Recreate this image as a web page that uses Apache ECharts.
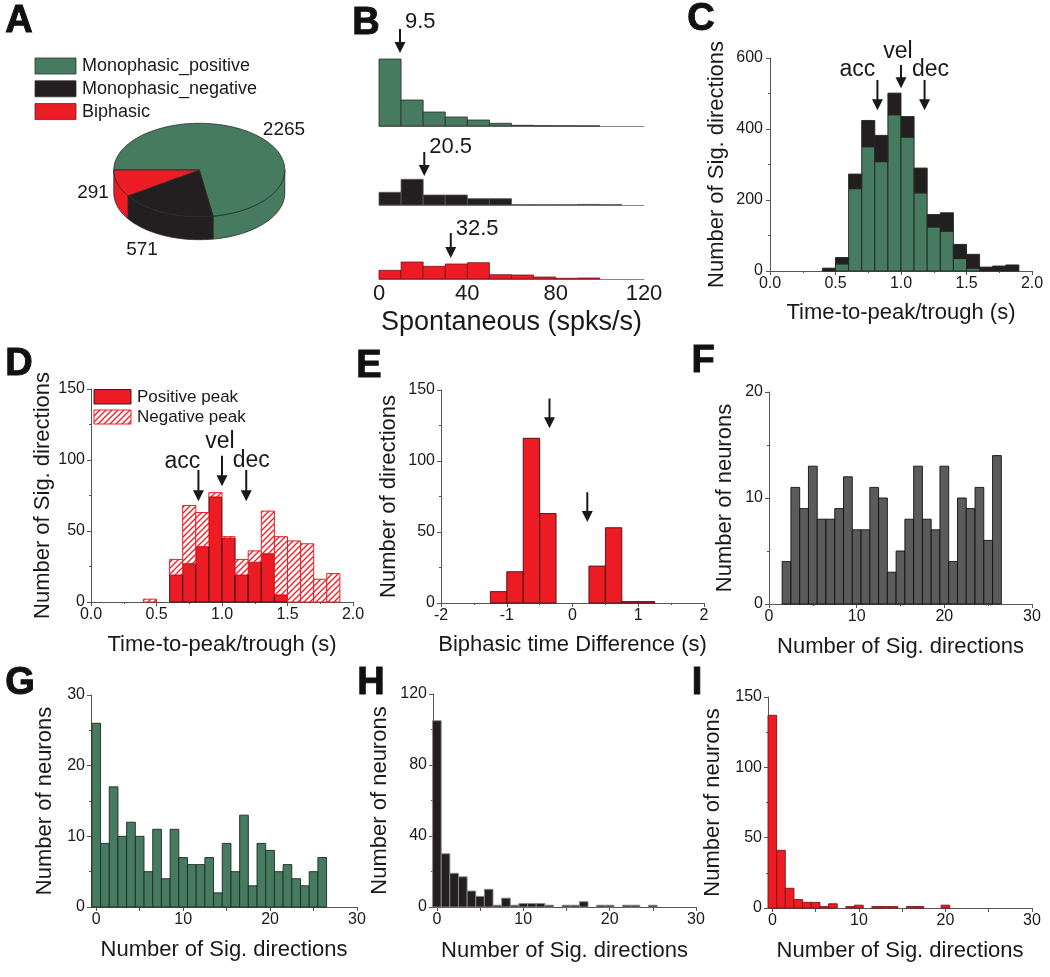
<!DOCTYPE html>
<html><head><meta charset="utf-8">
<script src="https://cdn.jsdelivr.net/npm/echarts@6/dist/echarts.min.js"></script>
<style>html,body{margin:0;padding:0;background:#fff}#c{width:1050px;height:977px}</style>
</head><body><div id="c"></div><script>
// ================= DATA =================
// A: counts of significant directions by response type
const pieNames = ['Monophasic_positive', 'Monophasic_negative', 'Biphasic'];
const pieValues = [2265, 571, 291];

// B: spontaneous firing-rate histograms (bin 10 spk/s, from 0), relative heights
const spontBinStart = 0, spontBin = 10;
const spontTicks = [0, 40, 80, 120];
const spontMonoPos = [67, 26, 14, 9, 6, 2.7, 0.7, 0.3, 0.2, 0.1, 0, 0];
const spontMonoNeg = [12.7, 25.7, 10, 10, 6.3, 6.3, 0.3, 0.3, 0.3, 0.6, 0.3, 0];
const spontBiphasic = [8.7, 17, 12.7, 15, 16.3, 4.3, 4, 2, 0.7, 1, 0, 0];
const spontMedians = [9.5, 20.5, 32.5];

// C / D: time-to-peak/trough (bin 0.1 s from 0.4 s)
const ttpBinStart = 0.4, ttpBin = 0.1;
const ttpMonoPos = [0, 20, 232, 350, 308, 440, 377, 220, 124, 112, 35, 8, 0, 0, 0];
const ttpMonoNeg = [8, 18, 41, 74, 74, 61, 58, 70, 35, 52, 40, 39, 11, 14, 17];
const ttpBiPos = [0, 0, 19, 27, 39, 74, 45, 19, 28, 34, 5, 0, 0, 0, 0];
const ttpBiNeg = [2, 0, 11, 41, 24, 3, 1, 11, 8, 30, 41, 43, 41, 16, 20];
const phaseNames = ['acc', 'vel', 'dec'];
const phaseTimesC = [0.82, 1.0, 1.18];
const phaseTimesD = [0.82, 1.0, 1.185];

// E: biphasic time difference (bin 0.25 s from -1.25 s)
const diffBinStart = -1.25, diffBin = 0.25;
const diffCounts = [8, 22, 116, 63, 0, 0, 26, 53, 1, 1];
const diffMarks = [-0.35, 0.225];

// F-I: number of neurons vs number of significant directions (index = n directions)
const nSigTicks = [0, 10, 20, 30];
const nSigMinorTicks = [0, 5, 10, 15, 20, 25, 30];
const nSigAll      = [0, 0, 4, 11, 9, 13, 8, 8, 9, 12, 7, 7, 11, 10, 3, 5, 8, 13, 8, 7, 13, 4, 10, 9, 11, 6, 14];
const nSigMonoPos  = [26, 9, 17, 10, 12, 10, 5, 11, 4, 11, 7, 6, 6, 7, 2, 9, 5, 13, 3, 9, 8, 5, 6, 4, 3, 5, 7];
const nSigMonoNeg  = [105, 30, 19, 17, 9, 6, 10, 1, 5, 1, 2, 2, 2, 1, 0, 1, 1, 3, 0, 1, 1, 0, 1, 1, 0, 1, 0];
const nSigBiphasic = [137, 41, 14, 6, 4, 4, 1, 3, 0, 1, 2, 0, 1, 1, 1, 0, 1, 1, 0, 0, 2, 0, 0, 0, 0, 0, 0];

// ================= STYLE =================
const FONT = '"Liberation Sans", Arial, Helvetica, sans-serif';
const INK = '#1a1819';
const GREEN = '#467b5f', RED = '#ed1c24', BLACK = '#231f20', GRAY = '#5b5b5b';
const AX = '#555';
const pieColors = [GREEN, BLACK, RED];

function hatchCanvas() {
  const c = document.createElement('canvas'); c.width = 6; c.height = 6;
  const g = c.getContext('2d');
  g.fillStyle = '#fff'; g.fillRect(0, 0, 6, 6);
  g.strokeStyle = RED; g.lineWidth = 1.3; g.beginPath();
  g.moveTo(0, 6); g.lineTo(6, 0);
  g.moveTo(-1, 1); g.lineTo(1, -1);
  g.moveTo(5, 7); g.lineTo(7, 5);
  g.stroke();
  return c;
}
const HATCH = { image: hatchCanvas(), repeat: 'repeat' };

function merge(a, b) {
  const o = Array.isArray(a) ? a.slice() : Object.assign({}, a);
  for (const k in b) {
    if (b[k] && typeof b[k] === 'object' && !Array.isArray(b[k]) && !b[k].image && a[k] && typeof a[k] === 'object') o[k] = merge(a[k], b[k]);
    else o[k] = b[k];
  }
  return o;
}
function txt(text, size, extra) {
  return Object.assign({ text, fill: INK, fontSize: size, fontFamily: FONT,
    align: 'left', verticalAlign: 'middle', textAlign: 'left', textVerticalAlign: 'middle' }, extra || {});
}

// ================= LAYOUT =================
const grids = [
  { left: 379, top: 56, width: 265, height: 70 },   // 0 B1
  { left: 379, top: 135, width: 265, height: 70 },  // 1 B2
  { left: 379, top: 209, width: 265, height: 70 },  // 2 B3
  { left: 770, top: 58, width: 262, height: 213 },  // 3 C
  { left: 91, top: 389, width: 262, height: 213 },  // 4 D
  { left: 441, top: 390, width: 263, height: 213 }, // 5 E
  { left: 769, top: 392, width: 263, height: 212 }, // 6 F
  { left: 91, top: 695, width: 266, height: 212 },  // 7 G
  { left: 433, top: 694, width: 263, height: 213 }, // 8 H
  { left: 768, top: 697, width: 264, height: 211 }  // 9 I
].map(g => Object.assign({ outerBoundsMode: 'none', containLabel: false }, g));

function axis(gi, o) {
  return merge({
    type: 'value', gridIndex: gi, splitLine: { show: false },
    axisLine: { show: true, onZero: false, lineStyle: { color: AX, width: 1 } },
    axisTick: { show: true, inside: false, length: 4, lineStyle: { color: AX, width: 1 } },
    minorTick: { show: true, splitNumber: 2, length: 2, lineStyle: { color: AX, width: 1 } },
    axisLabel: { color: INK, fontSize: 16, fontFamily: FONT, margin: 5 },
    nameLocation: 'middle', nameTextStyle: { color: INK, fontSize: 22, fontFamily: FONT }
  }, o);
}
const f1 = v => v.toFixed(1);

const xAxes = [
  axis(0, { min: 0, max: 120, axisTick: { show: false }, minorTick: { show: false }, axisLabel: { show: false }, axisLine: { lineStyle: { color: '#888' } } }),
  axis(1, { min: 0, max: 120, axisTick: { show: false }, minorTick: { show: false }, axisLabel: { show: false }, axisLine: { lineStyle: { color: '#888' } } }),
  axis(2, { min: 0, max: 120, interval: 40, axisTick: { show: false }, minorTick: { show: false }, axisLine: { lineStyle: { color: '#888' } },
    axisLabel: { fontSize: 22, margin: 4, customValues: spontTicks }, name: 'Spontaneous (spks/s)', nameGap: 30, nameTextStyle: { fontSize: 27 } }),
  axis(3, { min: 0, max: 2, interval: 0.5, axisLabel: { formatter: f1 }, name: 'Time-to-peak/trough (s)', nameGap: 31 }),
  axis(4, { min: 0, max: 2, interval: 0.5, axisLabel: { formatter: f1 }, name: 'Time-to-peak/trough (s)', nameGap: 32 }),
  axis(5, { min: -2, max: 2, interval: 1, name: 'Biphasic time Difference (s)', nameGap: 31 }),
  axis(6, { min: 0, max: 30, interval: 10, name: 'Number of Sig. directions', nameGap: 32 }),
  axis(7, { min: -0.6, max: 30, minorTick: { show: false }, axisTick: { customValues: nSigMinorTicks }, axisLabel: { customValues: nSigTicks }, name: 'Number of Sig. directions', nameGap: 32 }),
  axis(8, { min: -0.45, max: 30, minorTick: { show: false }, axisTick: { customValues: nSigMinorTicks }, axisLabel: { customValues: nSigTicks }, name: 'Number of Sig. directions', nameGap: 33 }),
  axis(9, { min: -0.5, max: 30, minorTick: { show: false }, axisTick: { customValues: nSigMinorTicks }, axisLabel: { customValues: nSigTicks }, name: 'Number of Sig. directions', nameGap: 32 })
];
const yAxes = [
  axis(0, { min: 0, max: 70, show: false }),
  axis(1, { min: 0, max: 70, show: false }),
  axis(2, { min: 0, max: 70, show: false }),
  axis(3, { min: 0, max: 600, interval: 200, name: 'Number of Sig. directions', nameGap: 42, axisLabel: { margin: 7 } }),
  axis(4, { min: 0, max: 150, interval: 50, name: 'Number of Sig. directions', nameGap: 37, axisLabel: { margin: 6 } }),
  axis(5, { min: 0, max: 150, interval: 50, name: 'Number of directions', nameGap: 41, axisLabel: { margin: 6 } }),
  axis(6, { min: 0, max: 20, interval: 10, name: 'Number of neurons', nameGap: 33, axisLabel: { margin: 6 } }),
  axis(7, { min: 0, max: 30, interval: 10, name: 'Number of neurons', nameGap: 35, axisLabel: { margin: 6 } }),
  axis(8, { min: 0, max: 120, interval: 40, name: 'Number of neurons', nameGap: 42, axisLabel: { margin: 6 } }),
  axis(9, { min: 0, max: 150, interval: 50, name: 'Number of neurons', nameGap: 44, axisLabel: { margin: 6 } })
];

// ================= SERIES BUILDERS =================
function hist(gi, start, width, vals, base, fill, stroke, lw) {
  const data = vals.map((v, i) => {
    const b = base ? base[i] : 0;
    return [start + i * width, start + (i + 1) * width, b, b + v];
  });
  return {
    type: 'custom', xAxisIndex: gi, yAxisIndex: gi, data, clip: false, silent: true,
    encode: { x: [0, 1], y: [2, 3] },
    renderItem: (p, api) => {
      if (api.value(3) - api.value(2) <= 0) return null;
      const a = api.coord([api.value(0), api.value(3)]);
      const b = api.coord([api.value(1), api.value(2)]);
      return { type: 'rect', shape: { x: a[0], y: a[1], width: b[0] - a[0], height: b[1] - a[1] },
        style: { fill, stroke, lineWidth: lw } };
    }
  };
}
// arrows: rows [x, yTail, yTip, label, dxPx, dyPx, align]
function arrows(gi, rows, fontSize) {
  return {
    type: 'custom', xAxisIndex: gi, yAxisIndex: gi, clip: false, silent: true, z: 5,
    data: rows.map(r => [r[0], r[1], r[2]]),
    renderItem: (p, api) => {
      const r = rows[p.dataIndex];
      const t = api.coord([api.value(0), api.value(1)]);
      const b = api.coord([api.value(0), api.value(2)]);
      const hw = 5.5, hl = 11;
      const ch = [
        { type: 'line', shape: { x1: t[0], y1: t[1], x2: b[0], y2: b[1] - hl + 1 }, style: { stroke: INK, lineWidth: 2 } },
        { type: 'polygon', shape: { points: [[b[0] - hw, b[1] - hl], [b[0] + hw, b[1] - hl], [b[0], b[1]]] }, style: { fill: INK } }
      ];
      if (r[3]) ch.push({ type: 'text', x: t[0] + r[4], y: t[1] + r[5],
        style: txt(r[3], fontSize, { align: r[6], textAlign: r[6] }) });
      return { type: 'group', children: ch };
    }
  };
}

// 3-D pie (custom, angles from pieValues)
const PIE = { cx: 199.3, cy: 170, rx: 85.5, ry: 46.7, h: 23 };
function pieRender(params, api) {
  const i = params.dataIndex;
  const order = [2, 1, 0];
  const total = pieValues.reduce((s, v) => s + v, 0);
  let before = 0;
  for (const k of order) { if (k === i) break; before += pieValues[k]; }
  const a1 = 180 - before / total * 360;
  const a0 = a1 - api.value(0) / total * 360;
  const pt = (deg, dy) => { const t = deg * Math.PI / 180; return [PIE.cx + PIE.rx * Math.cos(t), PIE.cy + PIE.ry * Math.sin(t) + (dy || 0)]; };
  const arc = (s, e, dy) => { const n = Math.max(2, Math.ceil(Math.abs(e - s) / 2)); const out = []; for (let j = 0; j <= n; j++) out.push(pt(s + (e - s) * j / n, dy)); return out; };
  const style = { fill: pieColors[i], stroke: '#2a2a2a', lineWidth: 0.8 };
  const ch = [];
  const s = Math.max(a0, 0), e = Math.min(a1, 180);
  if (e > s) {
    const top = arc(s, e, 0), bot = arc(e, s, PIE.h);
    ch.push({ type: 'polygon', shape: { points: top.concat(bot) }, style });
  }
  ch.push({ type: 'polygon', shape: { points: [[PIE.cx, PIE.cy]].concat(arc(a0, a1, 0)) }, style });
  return { type: 'group', children: ch };
}

// ================= ANNOTATION GEOMETRY (data units) =================
const bArrowTail = [97, 53, 46], bArrowTip = [73, 29, 21], bLabelDy = [-7, -5, -4];
const cArrow = [[538, 453, -20, -10], [580, 515, -3, -13], [538, 453, 6, -10]];
const dArrow = [[93, 71, -16, -8], [103, 81.5, -2, -14], [93, 71, 5, -9]];
const eArrow = [[144, 123], [78, 57]];

const series = [
  { type: 'custom', coordinateSystem: 'none', silent: true, data: pieValues.map(v => [v]), renderItem: pieRender },
  hist(0, spontBinStart, spontBin, spontMonoPos, null, GREEN, '#2b2b2b', 0.8),
  hist(1, spontBinStart, spontBin, spontMonoNeg, null, BLACK, '#555', 0.8),
  hist(2, spontBinStart, spontBin, spontBiphasic, null, RED, '#6a1a1a', 0.8),
  ...spontMedians.map((m, k) => arrows(k, [[m, bArrowTail[k], bArrowTip[k], String(m), 5, bLabelDy[k], 'left']], 22)),
  hist(3, ttpBinStart, ttpBin, ttpMonoPos, null, GREEN, '#222', 0.9),
  hist(3, ttpBinStart, ttpBin, ttpMonoNeg, ttpMonoPos, BLACK, '#222', 0.9),
  arrows(3, phaseNames.map((n, k) => [phaseTimesC[k], cArrow[k][0], cArrow[k][1], n, cArrow[k][2], cArrow[k][3], 'center']), 23),
  hist(4, ttpBinStart, ttpBin, ttpBiPos, null, RED, '#2a1010', 0.9),
  hist(4, ttpBinStart, ttpBin, ttpBiNeg, ttpBiPos, HATCH, RED, 1),
  arrows(4, phaseNames.map((n, k) => [phaseTimesD[k], dArrow[k][0], dArrow[k][1], n, dArrow[k][2], dArrow[k][3], 'center']), 23),
  hist(5, diffBinStart, diffBin, diffCounts, null, RED, '#3a1010', 0.9),
  arrows(5, diffMarks.map((m, k) => [m, eArrow[k][0], eArrow[k][1], '', 0, 0, 'center']), 22),
  hist(6, -0.5, 1, nSigAll, null, GRAY, '#111', 0.9),
  hist(7, -0.5, 1, nSigMonoPos, null, GREEN, '#1e2a22', 0.9),
  hist(8, -0.5, 1, nSigMonoNeg, null, BLACK, '#8a8a8a', 0.9),
  hist(9, -0.5, 1, nSigBiphasic, null, RED, '#7a1515', 0.9)
];

// ================= GRAPHIC (panel letters, legends, pie labels) =================
const letters = [['A', 19, 22], ['B', 366, 24], ['C', 701, 20], ['D', 19, 365], ['E', 369, 367], ['F', 703, 362], ['G', 20, 684], ['H', 371, 684], ['I', 697, 684]];
const graphic = [];
letters.forEach(([t, x, y]) => graphic.push({ type: 'text', x, y, style: txt(t, 38, { fontWeight: 'bold', align: 'center', textAlign: 'center', fill: '#111', stroke: '#111', lineWidth: 1 }) }));
pieNames.forEach((n, i) => {
  graphic.push({ type: 'rect', shape: { x: 35, y: 58 + i * 22.8, width: 41, height: 16 }, style: { fill: pieColors[i], stroke: '#333', lineWidth: 0.8 } });
  graphic.push({ type: 'text', x: 82, y: 66 + i * 22.8, style: txt(n, 18) });
});
const pieLabelPos = [[284, 130], [142, 250], [93, 193]];
pieValues.forEach((v, i) => graphic.push({ type: 'text', x: pieLabelPos[i][0], y: pieLabelPos[i][1], style: txt(String(v), 19, { align: 'center', textAlign: 'center' }) }));
graphic.push({ type: 'rect', shape: { x: 94, y: 389.5, width: 37, height: 14.5 }, style: { fill: RED, stroke: '#2a1010', lineWidth: 0.9 } });
graphic.push({ type: 'text', x: 137, y: 397, style: txt('Positive peak', 17) });
graphic.push({ type: 'rect', shape: { x: 94, y: 410, width: 37, height: 14 }, style: { fill: HATCH, stroke: RED, lineWidth: 1 } });
graphic.push({ type: 'text', x: 137, y: 417, style: txt('Negative peak', 17) });

const chart = echarts.init(document.getElementById('c'), null, { renderer: 'canvas' });
chart.setOption({
  animation: false, backgroundColor: '#fff',
  textStyle: { fontFamily: FONT },
  grid: grids, xAxis: xAxes, yAxis: yAxes, series, graphic
});
</script></body></html>
